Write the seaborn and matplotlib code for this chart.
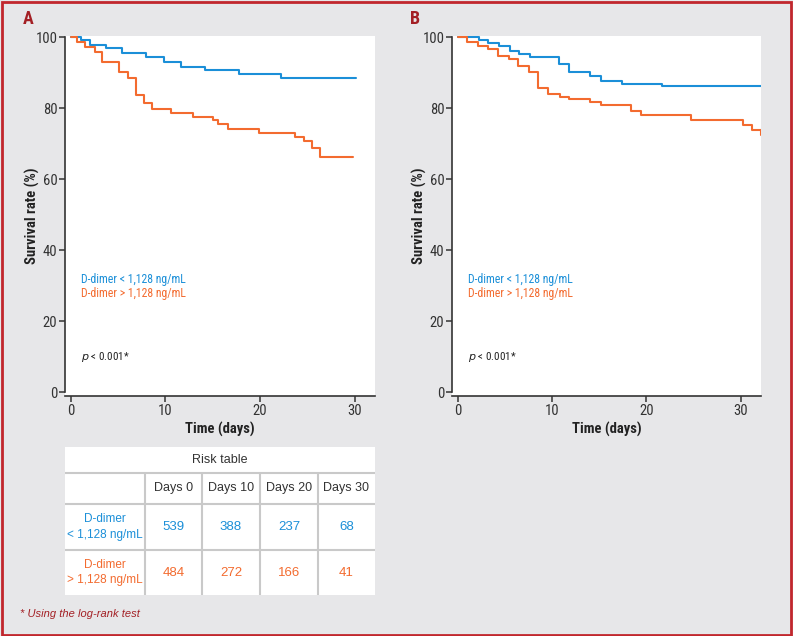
import pandas as pd
import matplotlib.pyplot as plt
import seaborn as sns
from matplotlib import font_manager
from matplotlib.patches import Rectangle

# Kaplan-Meier curves (time in days, survival in %)
times_a_low = [0, 1.1, 2.0, 3.7, 5.4, 7.9, 9.8, 11.6, 14.2, 17.8, 22.2, 30.1]
surv_a_low = [100, 99.2, 97.9, 96.8, 95.6, 94.3, 93.0, 91.7, 90.6, 89.6, 88.5, 88.5]
times_a_high = [0, 0.7, 1.5, 2.5, 3.3, 5.1, 6.0, 6.9, 7.7, 8.6, 10.6, 12.9, 15.0, 15.6,
                16.6, 19.9, 23.7, 24.6, 25.5, 26.3, 29.8]
surv_a_high = [100, 98.7, 97.1, 95.7, 92.9, 90.1, 88.4, 83.6, 81.5, 79.6, 78.5, 77.6, 76.5,
               75.4, 74.2, 73.0, 71.9, 70.6, 68.8, 66.3, 66.3]

times_b_low = [0, 2.2, 3.25, 4.4, 5.5, 6.5, 7.6, 10.7, 11.8, 14.0, 15.2, 17.4, 21.6, 32.15]
surv_b_low = [100, 99.15, 98.2, 97.4, 96.1, 95.2, 94.4, 92.4, 90.3, 88.9, 87.7, 86.8, 86.1, 86.1]
times_b_high = [0, 0.95, 2.1, 3.25, 4.3, 5.4, 6.4, 7.5, 8.55, 9.6, 10.8, 11.8, 14.0, 15.2,
                18.35, 19.4, 24.7, 30.2, 31.2, 32.15]
surv_b_high = [100, 98.5, 97.5, 96.5, 94.7, 93.8, 91.8, 90.2, 85.7, 83.9, 83.2, 82.5, 81.6,
               80.8, 79.2, 78.1, 76.5, 75.3, 73.7, 72.4]

groups = ['D-dimer < 1,128 ng/mL', 'D-dimer > 1,128 ng/mL']
row_labels = ['D-dimer\n< 1,128 ng/mL', 'D-dimer\n> 1,128 ng/mL']
day_labels = ['Days 0', 'Days 10', 'Days 20', 'Days 30']
risk_low = [539, 388, 237, 68]
risk_high = [484, 272, 166, 41]

BLUE = '#1b8fd8'
ORANGE = '#f36b2f'
DARKRED = '#a31f24'
GRAY_BG = '#e7e7e9'

sns.set_theme(style='white')
available = {f.name for f in font_manager.fontManager.ttflist}
narrow = next((f for f in ['Liberation Sans Narrow', 'Roboto Condensed', 'DejaVu Sans Condensed',
                           'Roboto', 'DejaVu Sans'] if f in available), 'DejaVu Sans')
plain = 'Liberation Sans' if 'Liberation Sans' in available else 'DejaVu Sans'
plt.rcParams['font.family'] = [narrow, 'DejaVu Sans']

W, H = 793, 636
fig = plt.figure(figsize=(W / 100, H / 100), dpi=100, facecolor=GRAY_BG)


def px_axes(left, top, right, bottom):
    return fig.add_axes([left / W, 1 - bottom / H, (right - left) / W, (bottom - top) / H])


def km_panel(ax, t_low, s_low, t_high, s_high, letter):
    df = pd.concat([
        pd.DataFrame({'time': t_low, 'survival': s_low, 'group': groups[0]}),
        pd.DataFrame({'time': t_high, 'survival': s_high, 'group': groups[1]}),
    ])
    sns.lineplot(data=df, x='time', y='survival', hue='group', palette=[BLUE, ORANGE],
                 estimator=None, drawstyle='steps-post', linewidth=1.5, legend=False, ax=ax)
    ax.set_facecolor('white')
    ax.set_xlim(-0.62, 32.15)
    ax.set_ylim(-1.1, 100.3)
    ax.set_xticks([0, 10, 20, 30])
    ax.set_yticks([0, 20, 40, 60, 80, 100])
    sns.despine(ax=ax)
    ax.spines['left'].set_bounds(0, 100)
    for s in ['left', 'bottom']:
        ax.spines[s].set_color('#333333')
        ax.spines[s].set_linewidth(1.2)
    ax.tick_params(axis='both', which='major', labelsize=10.5, colors='#333333', length=4,
                   width=1.1, pad=1.5, left=True, bottom=True)
    ax.set_xlabel('Time (days)', fontsize=10.5, fontweight='bold', color='#222222', labelpad=3)
    ax.set_ylabel('Survival rate (%)', fontsize=10.5, fontweight='bold', color='#222222')
    ax.yaxis.set_label_coords(-0.082, 0.5)
    ax.text(1.1, 31.8, groups[0], color=BLUE, fontsize=8.5, va='center')
    ax.text(1.1, 27.9, groups[1], color=ORANGE, fontsize=8.5, va='center')
    ax.text(1.1, 9.9, r'$p$ < 0.001*', color='#222222', fontsize=8, va='center')
    ax.text(-0.135, 1.047, letter, transform=ax.transAxes, fontsize=13, fontweight='bold',
            color=DARKRED, va='center', ha='left')


ax_a = px_axes(65, 36, 375, 396)
km_panel(ax_a, times_a_low, surv_a_low, times_a_high, surv_a_high, 'A')
ax_b = px_axes(452, 36, 761, 396)
km_panel(ax_b, times_b_low, surv_b_low, times_b_high, surv_b_high, 'B')

# Risk table
ax_t = px_axes(65, 447, 375, 595)
ax_t.set_facecolor('white')
ax_t.set_xticks([])
ax_t.set_yticks([])
for s in ax_t.spines.values():
    s.set_visible(False)
title_h = 26 / 148
ax_t.text(0.5, 1 - title_h / 2, 'Risk table', ha='center', va='center', fontsize=9,
          color='#333333', family=[plain, 'DejaVu Sans'])
ax_t.axhline(1 - title_h, color='#c9c9c9', linewidth=1.5)

cells = [[''] + day_labels,
         [row_labels[0]] + [str(v) for v in risk_low],
         [row_labels[1]] + [str(v) for v in risk_high]]
col_w = [80, 57, 58, 58, 57]
tbl = ax_t.table(cellText=cells, colWidths=[c / sum(col_w) for c in col_w],
                 bbox=[0, 0, 1, 1 - title_h], cellLoc='center')
tbl.auto_set_font_size(False)
row_h = [31, 46, 45]
row_colors = ['#333333', BLUE, ORANGE]
for (r, c), cell in tbl.get_celld().items():
    cell.set_height(row_h[r])
    cell.set_edgecolor('#c9c9c9')
    cell.set_linewidth(1.5)
    cell.set_facecolor('white')
    txt = cell.get_text()
    if r == 0:
        txt.set_fontsize(9)
    elif c == 0:
        txt.set_fontsize(8.5)
    else:
        txt.set_fontsize(9.5)
    txt.set_color(row_colors[r])
    txt.set_family([plain, 'DejaVu Sans'])
    txt.set_linespacing(1.4)
    # inner grid lines only
    edges = ''
    if r > 0:
        edges += 'T'
    if c > 0:
        edges += 'L'
    cell.visible_edges = edges if edges else 'open'
    if not edges:
        cell.set_linewidth(0)

fig.text(20 / W, 1 - 614 / H, '* Using the log-rank test', fontsize=8, style='italic',
         color=DARKRED, va='center', family=[plain, 'DejaVu Sans'])

fig.patches.append(Rectangle((1.5 / W, 1.5 / H), (W - 3.5) / W, (H - 3.5) / H,
                             transform=fig.transFigure, fill=False, edgecolor='#c1272d',
                             linewidth=2))

fig.savefig('out.png', dpi=100, facecolor=GRAY_BG)
